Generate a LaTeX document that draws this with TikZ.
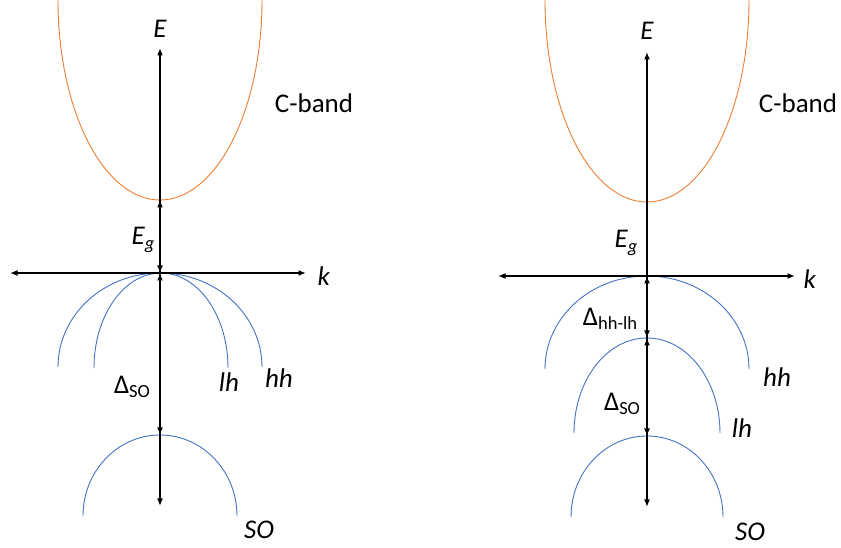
\documentclass[tikz,border=0pt]{standalone}
\usepackage{fontspec}
\setmainfont{Carlito}
\usetikzlibrary{positioning,arrows.meta}
\definecolor{bandorange}{RGB}{237,125,49}
\definecolor{bandblue}{RGB}{68,114,196}
\newcommand{\lsub}[1]{\raisebox{-0.35ex}{\fontsize{18.5}{20}\selectfont #1}}
\tikzset{
  tip/.tip={Latex[length=7.5pt,width=6pt]},
  axis/.style={draw=black, line width=1.6pt, tip-tip},
  gap/.style={draw=black, line width=1.6pt, tip-tip},
  cband/.style={draw=bandorange, line width=0.9pt},
  vband/.style={draw=bandblue, line width=0.9pt},
  lbl/.style={font=\fontsize{27}{32}\selectfont, inner sep=0pt}
}
\begin{document}
\begin{tikzpicture}[x=1pt, y=1pt]
  \useasboundingbox (0,0) rectangle (841,548);

  % left: unstrained
  \coordinate (Lo)   at (160,275);
  \coordinate (Lc)   at (160,348);
  \coordinate (Ls)   at (160,113);
  \coordinate (Ltop) at (160,500);
  \coordinate (Lbot) at (160,42);
  \coordinate (Lkl)  at (10,275);
  \coordinate (Lkr)  at (306,275);

  \draw[cband] (58,548) arc[start angle=180, end angle=360, x radius=102, y radius=200];
  \draw[vband] (58,181) arc[start angle=180, end angle=0, x radius=102, y radius=94];
  \draw[vband] (94,180) arc[start angle=180, end angle=0, x radius=67, y radius=95];
  \draw[vband] (83,32) arc[start angle=180, end angle=0, x radius=77, y radius=81];

  \draw[axis] (Lkl) -- (Lkr);
  \draw[axis] (Lbot) -- (Ltop);
  \draw[gap]  (Lo) -- (Lc);
  \draw[gap]  (Lo) -- (Ls);

  \node[lbl] (LE)  at (160,519) {\textit{E}};
  \node[lbl] (Lk)  at (324,272) {\textit{k}};
  \node[lbl] (Lcb) at (314,445) {C-band};
  \node[lbl] (LEg) at (143,308) {\textit{E}\lsub{\textit{g}}};
  \node[lbl] (Ld)  at (132,161) {Δ\lsub{SO}};
  \node[lbl] (Llh) at (229,166) {\textit{lh}};
  \node[lbl] (Lhh) at (279,170) {\textit{hh}};
  \node[lbl] (Lso) at (259,18)  {\textit{SO}};

  % right: strained
  \coordinate (Ro)   at (647,272);
  \coordinate (Rc)   at (647,346);
  \coordinate (Rl)   at (647,210);
  \coordinate (Rs)   at (647,112);
  \coordinate (Rtop) at (647,496);
  \coordinate (Rbot) at (647,41);
  \coordinate (Rkl)  at (498,272);
  \coordinate (Rkr)  at (795,272);

  \draw[cband] (545,548) arc[start angle=180, end angle=360, x radius=102, y radius=202];
  \draw[vband] (545,179) arc[start angle=180, end angle=0, x radius=102, y radius=93];
  \draw[vband] (574,115) arc[start angle=180, end angle=0, x radius=73, y radius=95];
  \draw[vband] (571,31) arc[start angle=180, end angle=0, x radius=76, y radius=81];

  \draw[axis] (Rkl) -- (Rkr);
  \draw[axis] (Rbot) -- (Rtop);
  \draw[gap]  (Ro) -- (Rl);
  \draw[gap]  (Rl) -- (Rs);

  \node[lbl] (RE)  at (647,517) {\textit{E}};
  \node[lbl] (Rk)  at (810,269) {\textit{k}};
  \node[lbl] (Rcb) at (798,445) {C-band};
  \node[lbl] (REg) at (626,305) {\textit{E}\lsub{\textit{g}}};
  \node[lbl] (Rdh) at (610,229) {Δ\lsub{hh-lh}};
  \node[lbl] (Rds) at (622,144) {Δ\lsub{SO}};
  \node[lbl] (Rhh) at (777,171) {\textit{hh}};
  \node[lbl] (Rlh) at (742,120) {\textit{lh}};
  \node[lbl] (Rso) at (750,16)  {\textit{SO}};
\end{tikzpicture}
\end{document}
